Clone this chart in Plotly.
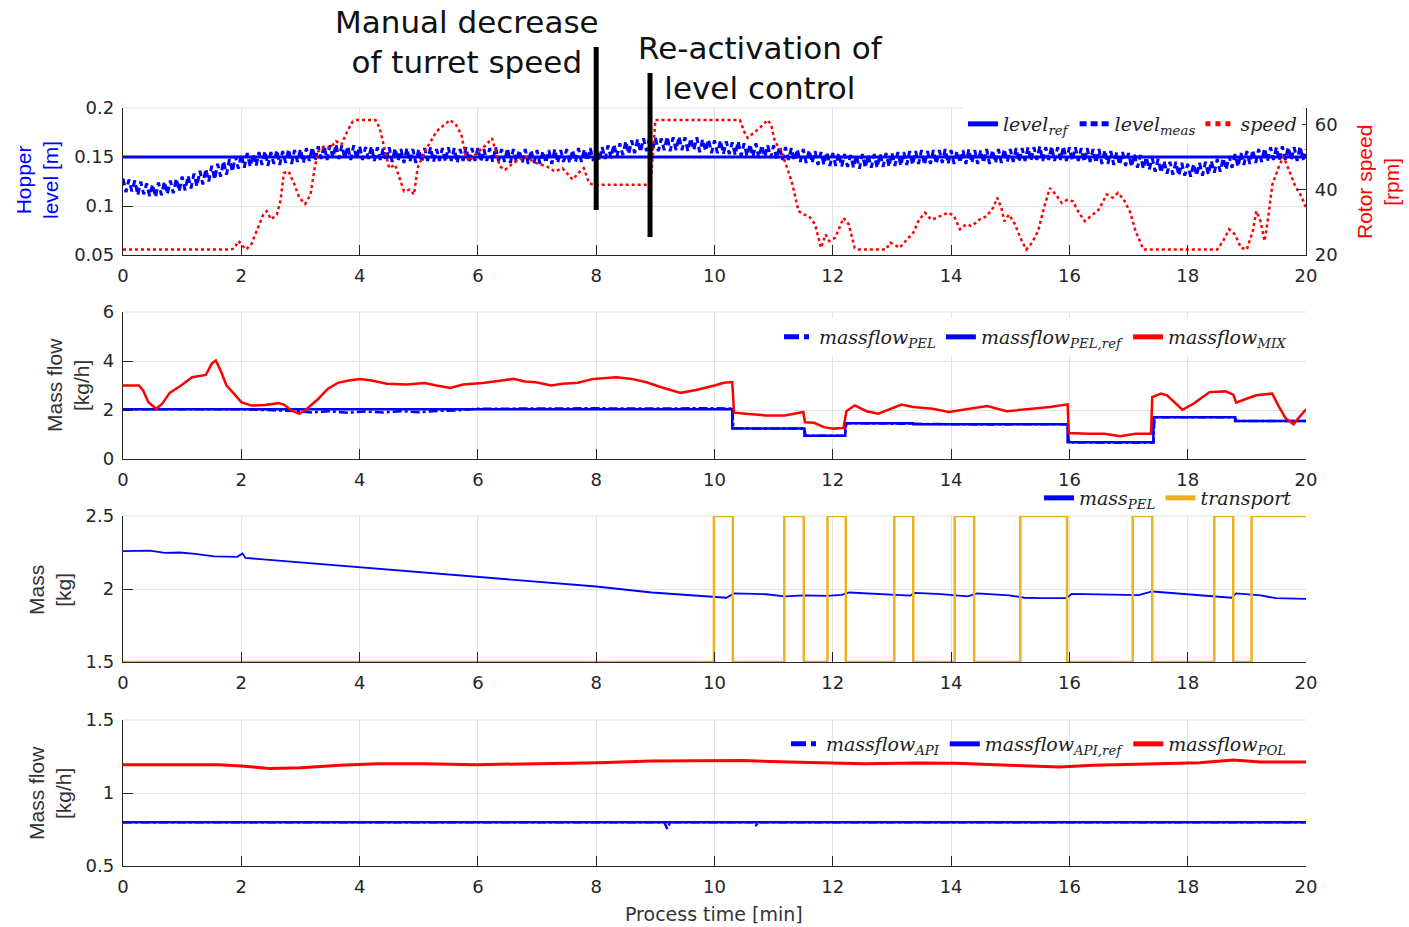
import numpy as np
import plotly.graph_objects as go

W, H = 1409, 927

# ---------------- data ----------------
x_ticks = [0, 2, 4, 6, 8, 10, 12, 14, 16, 18, 20]

# Panel 1 : hopper level and rotor speed
level_ref_t = [0, 20]
level_ref = [0.15, 0.15]
level_meas_t = np.round(np.arange(0, 20.001, 0.05), 2)
level_meas = [
    0.128, 0.114, 0.127, 0.115, 0.126, 0.111, 0.125, 0.112, 0.123, 0.110, 0.122, 0.109, 0.124, 0.111, 0.125, 0.112, 0.126, 0.113, 0.128, 0.115,
    0.130, 0.116, 0.131, 0.118, 0.133, 0.120, 0.136, 0.122, 0.138, 0.125, 0.141, 0.127, 0.143, 0.130, 0.146, 0.132, 0.148, 0.135, 0.151, 0.138,
    0.153, 0.139, 0.154, 0.140, 0.153, 0.141, 0.155, 0.142, 0.156, 0.141, 0.155, 0.143, 0.157, 0.142, 0.156, 0.144, 0.158, 0.143, 0.157, 0.145,
    0.158, 0.144, 0.159, 0.146, 0.160, 0.147, 0.161, 0.148, 0.162, 0.147, 0.162, 0.149, 0.163, 0.148, 0.162, 0.149, 0.161, 0.147, 0.162, 0.148,
    0.161, 0.147, 0.160, 0.148, 0.161, 0.146, 0.160, 0.147, 0.159, 0.146, 0.160, 0.145, 0.159, 0.146, 0.158, 0.144, 0.159, 0.145, 0.158, 0.144,
    0.158, 0.145, 0.159, 0.146, 0.160, 0.145, 0.158, 0.146, 0.159, 0.145, 0.160, 0.146, 0.159, 0.144, 0.158, 0.146, 0.160, 0.145, 0.159, 0.146,
    0.159, 0.145, 0.158, 0.146, 0.159, 0.145, 0.160, 0.146, 0.158, 0.145, 0.159, 0.144, 0.158, 0.145, 0.157, 0.144, 0.158, 0.143, 0.157, 0.144,
    0.157, 0.143, 0.156, 0.144, 0.157, 0.143, 0.158, 0.144, 0.157, 0.145, 0.158, 0.144, 0.157, 0.145, 0.159, 0.145, 0.158, 0.146, 0.159, 0.146,
    0.160, 0.146, 0.160, 0.148, 0.162, 0.149, 0.163, 0.150, 0.164, 0.152, 0.166, 0.153, 0.167, 0.154, 0.168, 0.155, 0.169, 0.156, 0.169, 0.156,
    0.170, 0.156, 0.169, 0.157, 0.171, 0.156, 0.170, 0.157, 0.171, 0.157, 0.170, 0.156, 0.169, 0.157, 0.170, 0.155, 0.168, 0.156, 0.168, 0.154,
    0.167, 0.154, 0.167, 0.153, 0.166, 0.153, 0.165, 0.152, 0.166, 0.151, 0.164, 0.151, 0.163, 0.150, 0.164, 0.149, 0.162, 0.150, 0.162, 0.149,
    0.162, 0.148, 0.161, 0.147, 0.160, 0.147, 0.159, 0.146, 0.158, 0.145, 0.158, 0.144, 0.157, 0.144, 0.156, 0.142, 0.155, 0.142, 0.155, 0.141,
    0.154, 0.141, 0.154, 0.140, 0.153, 0.140, 0.152, 0.139, 0.152, 0.138, 0.153, 0.139, 0.152, 0.139, 0.153, 0.139, 0.153, 0.140, 0.154, 0.140,
    0.154, 0.141, 0.155, 0.141, 0.155, 0.142, 0.156, 0.142, 0.156, 0.143, 0.157, 0.142, 0.156, 0.143, 0.157, 0.143, 0.157, 0.144, 0.158, 0.143,
    0.157, 0.143, 0.156, 0.144, 0.157, 0.143, 0.158, 0.144, 0.157, 0.143, 0.157, 0.144, 0.158, 0.143, 0.157, 0.144, 0.158, 0.144, 0.158, 0.145,
    0.158, 0.145, 0.159, 0.145, 0.159, 0.146, 0.160, 0.146, 0.160, 0.147, 0.161, 0.146, 0.160, 0.147, 0.161, 0.146, 0.160, 0.147, 0.161, 0.146,
    0.160, 0.146, 0.160, 0.146, 0.159, 0.145, 0.159, 0.145, 0.158, 0.144, 0.158, 0.143, 0.157, 0.143, 0.156, 0.142, 0.155, 0.142, 0.155, 0.141,
    0.154, 0.140, 0.153, 0.139, 0.152, 0.138, 0.150, 0.137, 0.149, 0.135, 0.148, 0.134, 0.146, 0.133, 0.145, 0.132, 0.145, 0.131, 0.144, 0.131,
    0.143, 0.130, 0.143, 0.131, 0.144, 0.131, 0.145, 0.132, 0.146, 0.134, 0.148, 0.135, 0.149, 0.137, 0.151, 0.139, 0.153, 0.140, 0.154, 0.142,
    0.156, 0.143, 0.157, 0.144, 0.158, 0.145, 0.159, 0.146, 0.160, 0.147, 0.160, 0.146, 0.161, 0.147, 0.160, 0.147, 0.160, 0.146, 0.161, 0.147,
    0.158,
]
speed_t = [
    0, 1.82, 1.88, 1.95, 2.0, 2.08, 2.17, 2.27, 2.37, 2.43, 2.5, 2.6, 2.66, 2.72, 2.8,
    2.9, 2.98, 3.08, 3.17, 3.24, 3.3, 3.4, 3.5, 3.6, 3.69, 3.79, 3.88, 3.95, 4.27, 4.34,
    4.43, 4.5, 4.6, 4.69, 4.75, 4.85, 4.92, 4.98, 5.1, 5.17, 5.3, 5.43, 5.53, 5.63, 5.72,
    5.79, 5.85, 5.95, 6.05, 6.14, 6.24, 6.3, 6.37, 6.46, 6.6, 6.8, 6.98, 7.17, 7.3, 7.43,
    7.6, 7.7, 7.79, 7.88, 7.95, 8.92, 9.0, 10.43, 10.5, 10.56, 10.66, 10.76, 10.9, 10.96,
    11.02, 11.12, 11.22, 11.32, 11.42, 11.52, 11.6, 11.7, 11.8, 11.88, 11.94, 12.04, 12.18,
    12.27, 12.37, 12.44, 12.9, 12.97, 13.03, 13.13, 13.23, 13.36, 13.46, 13.56, 13.66,
    13.76, 13.86, 13.96, 14.05, 14.15, 14.25, 14.35, 14.48, 14.6, 14.71, 14.78, 14.85,
    14.9, 14.98, 15.08, 15.17, 15.27, 15.37, 15.47, 15.57, 15.67, 15.77, 15.87, 15.97,
    16.06, 16.16, 16.26, 16.36, 16.5, 16.63, 16.73, 16.82, 16.92, 17.02, 17.12, 17.25,
    18.5, 18.6, 18.7, 18.8, 18.9, 19.0, 19.1, 19.16, 19.23, 19.3, 19.36, 19.43, 19.53,
    19.62, 19.72, 19.82, 19.92, 20.0,
]
speed = [
    21.7, 21.7, 22.0, 24.3, 23.3, 21.7, 23.3, 27.9, 32.4, 33.5, 31.0, 32.4, 36.5, 45.2, 45.7,
    41.6, 37.6, 35.7, 38.6, 46.7, 51.8, 53.4, 52.9, 55.0, 53.9, 58.0, 61.0, 61.5, 61.5, 59.0,
    51.8, 46.7, 47.8, 42.7, 39.6, 40.1, 38.6, 46.7, 51.8, 53.9, 58.0, 60.0, 61.5, 60.0, 57.0,
    50.8, 48.8, 50.8, 52.3, 53.9, 55.9, 51.8, 47.2, 46.2, 48.3, 50.3, 48.3, 47.2, 45.7, 46.7,
    43.2, 45.2, 46.7, 42.1, 41.6, 41.6, 61.5, 61.5, 58.0, 56.0, 57.4, 59.0, 61.5, 60.0,
    54.9, 52.3, 47.2, 41.6, 33.5, 32.4, 31.9, 29.4, 22.2, 26.3, 24.3, 25.3, 31.4,
    29.4, 22.2, 21.7, 21.7, 23.8, 23.3, 22.2, 24.3, 26.8, 30.9, 33.0, 30.9,
    31.4, 32.4, 33.0, 31.9, 27.9, 29.4, 28.9, 30.9, 31.9, 34.5, 37.6, 34.5,
    30.4, 32.4, 29.4, 25.3, 21.7, 23.8, 27.3, 34.5, 40.6, 38.6, 36.0, 37.0,
    36.5, 33.0, 30.4, 31.9, 34.0, 38.6, 37.6, 39.1, 37.0, 33.5, 27.3, 21.7,
    21.7, 24.3, 27.9, 26.3, 22.2, 21.7, 27.3, 33.5, 30.4, 24.3, 31.4, 41.6, 46.7,
    50.3, 45.7, 41.1, 38.1, 34.5,
]
event_t = [8.0, 8.91]
event_text = ["Manual decrease<br>of turret speed", "Re-activation of<br>level control"]

# Panel 2 : pellet / mixture mass flow
pel_ref_t = [0, 10.3, 11.52, 12.21, 13.36, 15.97, 17.42, 18.8, 20]
pel_ref = [2.03, 1.25, 0.95, 1.46, 1.42, 0.68, 1.70, 1.55, 1.55]
pel_meas_t = [0, 1.0, 2.0, 2.9, 3.2, 3.5, 3.8, 4.1, 4.4, 4.7, 5.0, 5.3, 5.6, 6.0, 6.5,
              7.0, 7.5, 8.0, 8.5, 9.0, 9.5, 10.0, 10.3, 10.32, 10.9, 11.52, 11.54, 11.9,
              12.21, 12.23, 12.8, 13.36, 13.38, 14.5, 15.97, 15.99, 16.8, 17.42, 17.44,
              18.1, 18.8, 18.82, 19.5, 20]
pel_meas = [2.03, 2.02, 2.03, 1.96, 1.90, 1.95, 1.89, 1.94, 1.90, 1.95, 1.91, 1.96, 1.98, 2.05, 2.06,
            2.07, 2.05, 2.07, 2.06, 2.07, 2.06, 2.07, 2.06, 1.26, 1.24, 1.25, 0.95, 0.94,
            0.95, 1.46, 1.45, 1.44, 1.42, 1.41, 1.42, 0.68, 0.66, 0.67, 1.70, 1.71, 1.70,
            1.55, 1.54, 1.55]
mix_t = [
    0, 0.27, 0.34, 0.43, 0.56, 0.66, 0.79, 0.98, 1.17, 1.3, 1.4, 1.5, 1.57, 1.66, 1.75, 1.88,
    2.0, 2.17, 2.4, 2.63, 2.72, 2.85, 2.98, 3.11, 3.3, 3.46, 3.63, 3.82, 4.01, 4.2, 4.46,
    4.79, 5.1, 5.3, 5.53, 5.75, 6.08, 6.4, 6.6, 6.79, 6.98, 7.24, 7.43, 7.69, 7.95, 8.34,
    8.6, 8.85, 9.1, 9.43, 9.69, 10.0, 10.16, 10.3, 10.33, 10.53, 10.86, 11.19, 11.38, 11.5,
    11.53, 11.68, 11.85, 12.01, 12.18, 12.23, 12.37, 12.57, 12.77, 12.97, 13.16, 13.36,
    13.69, 13.96, 14.28, 14.61, 14.94, 15.34, 15.67, 15.97, 15.99, 16.33, 16.59, 16.86,
    17.12, 17.38, 17.4, 17.55, 17.65, 17.91, 18.1, 18.37, 18.64, 18.77, 18.82, 18.97,
    19.16, 19.43, 19.53, 19.66, 19.79, 19.89, 20.0,
]
mix = [
    3.0, 3.0, 2.8, 2.32, 2.05, 2.25, 2.7, 3.0, 3.34, 3.4, 3.43, 3.89, 4.02, 3.55, 3.0, 2.66,
    2.32, 2.18, 2.2, 2.28, 2.22, 1.98, 1.84, 2.05, 2.45, 2.86, 3.11, 3.2, 3.27, 3.2, 3.07,
    3.04, 3.1, 3.0, 2.9, 3.04, 3.1, 3.2, 3.27, 3.16, 3.13, 3.0, 3.07, 3.11, 3.27, 3.34,
    3.27, 3.13, 2.93, 2.7, 2.82, 3.0, 3.11, 3.14, 1.89, 1.85, 1.78, 1.78, 1.85, 1.92,
    1.5, 1.48, 1.3, 1.24, 1.27, 1.95, 2.19, 1.95, 1.85, 2.05, 2.22, 2.12,
    2.05, 1.92, 2.05, 2.16, 1.95, 2.05, 2.12, 2.23, 1.06, 1.03, 1.03, 0.93,
    1.03, 1.03, 2.53, 2.67, 2.6, 2.01, 2.26, 2.73, 2.76, 2.63, 2.3, 2.44,
    2.6, 2.67, 2.19, 1.65, 1.42, 1.72, 2.03,
]

# Panel 3 : pellet mass and transport state
mass_t = [0, 0.45, 0.71, 0.96, 1.22, 1.54, 1.93, 2.02, 2.07, 3.0, 4.0, 5.0, 6.0, 7.0, 8.0,
          8.94, 9.71, 10.0, 10.2, 10.33, 10.87, 11.19, 11.5, 11.9, 12.15, 12.28, 12.8, 13.31,
          13.39, 13.83, 14.28, 14.44, 14.98, 15.24, 15.5, 15.95, 16.04, 16.66, 17.17, 17.4,
          17.94, 18.46, 18.74, 18.82, 19.23, 19.49, 20.0]
mass_pel = [2.259, 2.263, 2.247, 2.25, 2.24, 2.224, 2.22, 2.243, 2.213, 2.183, 2.15, 2.118,
            2.086, 2.05, 2.017, 1.976, 1.953, 1.948, 1.94, 1.97, 1.964, 1.95, 1.957, 1.953,
            1.96, 1.976, 1.967, 1.955, 1.974, 1.965, 1.95, 1.97, 1.957, 1.94, 1.937, 1.937,
            1.967, 1.96, 1.958, 1.983, 1.967, 1.953, 1.94, 1.97, 1.957, 1.937, 1.932]
transport_t = [0, 9.99, 10.31, 11.18, 11.51, 11.91, 12.22, 13.04, 13.36, 14.06, 14.39,
               15.17, 15.96, 17.07, 17.4, 18.45, 18.77, 19.08, 20.0]
transport = [1.5, 2.5, 1.5, 2.5, 1.5, 2.5, 1.5, 2.5, 1.5, 2.5, 1.5,
             2.5, 1.5, 2.5, 1.5, 2.5, 1.5, 2.5, 2.5]

# Panel 4 : API / polymer mass flow
api_ref_t = [0, 20]
api_ref = [0.80, 0.80]
api_meas_t = [0, 9.15, 9.2, 9.25, 10.65, 10.7, 10.75, 20]
api_meas = [0.80, 0.80, 0.755, 0.80, 0.80, 0.78, 0.80, 0.80]
pol_t = [0, 1.61, 2.0, 2.5, 3.0, 3.67, 4.3, 5.08, 5.98, 7.0, 8.04, 8.94, 9.97, 10.48, 11.25,
         12.03, 12.54, 13.44, 14.08, 14.98, 15.83, 16.4, 17.3, 18.2, 18.77, 19.23, 20.0]
pol = [1.194, 1.194, 1.185, 1.167, 1.173, 1.19, 1.2, 1.2, 1.194, 1.2, 1.208, 1.22, 1.224,
       1.222, 1.213, 1.208, 1.2, 1.206, 1.203, 1.19, 1.178, 1.19, 1.2, 1.207, 1.226,
       1.213, 1.213]

# ---------------- style / layout ----------------
BLUE, RED, ORANGE = "#0000ff", "#ff0000", "#EDB120"
AX = "#262626"
GRID = "#e3e3e3"
TICKFONT = dict(family="DejaVu Sans", size=18, color=AX)
LEGFONT = dict(family="DejaVu Serif", size=19, color="#222222")


def px_x(px):
    return px / W


def px_y(py):
    return 1 - py / H


X0, X1 = 123, 1306
panels = [(108, 255), (312, 459), (516, 662), (720, 866)]

fig = go.Figure()

# panel 1
fig.add_trace(go.Scatter(x=level_ref_t, y=level_ref, mode="lines", xaxis="x", yaxis="y",
                         line=dict(color=BLUE, width=3), legend="legend",
                         name="<i>level</i><sub><i>ref</i></sub>"))
fig.add_trace(go.Scatter(x=level_meas_t, y=level_meas, mode="lines", xaxis="x", yaxis="y",
                         line=dict(color=BLUE, width=3, dash="7px,4px"), legend="legend",
                         name="<i>level</i><sub><i>meas</i></sub>"))
fig.add_trace(go.Scatter(x=speed_t, y=speed, mode="lines", xaxis="x", yaxis="y5",
                         line=dict(color=RED, width=2.5, dash="dot"), legend="legend",
                         name="<i>speed</i>"))
# panel 2
fig.add_trace(go.Scatter(x=pel_meas_t, y=pel_meas, mode="lines", xaxis="x2", yaxis="y2",
                         line=dict(color=BLUE, width=2.5, dash="dashdot"), legend="legend2",
                         name="<i>massflow</i><sub><i>PEL</i></sub>"))
fig.add_trace(go.Scatter(x=pel_ref_t, y=pel_ref, mode="lines", xaxis="x2", yaxis="y2",
                         line=dict(color=BLUE, width=2.5, shape="hv"), legend="legend2",
                         name="<i>massflow</i><sub><i>PEL,ref</i></sub>"))
fig.add_trace(go.Scatter(x=mix_t, y=mix, mode="lines", xaxis="x2", yaxis="y2",
                         line=dict(color=RED, width=2.5), legend="legend2",
                         name="<i>massflow</i><sub><i>MIX</i></sub>"))
# panel 3
fig.add_trace(go.Scatter(x=mass_t, y=mass_pel, mode="lines", xaxis="x3", yaxis="y3",
                         line=dict(color=BLUE, width=1.8), legend="legend3",
                         name="<i>mass</i><sub><i>PEL</i></sub>"))
fig.add_trace(go.Scatter(x=transport_t, y=transport, mode="lines", xaxis="x3", yaxis="y3",
                         line=dict(color=ORANGE, width=2.5, shape="hv"), legend="legend3",
                         name="<i>transport</i>"))
# panel 4
fig.add_trace(go.Scatter(x=api_meas_t, y=api_meas, mode="lines", xaxis="x4", yaxis="y4",
                         line=dict(color=BLUE, width=2.5, dash="dashdot"), legend="legend4",
                         name="<i>massflow</i><sub><i>API</i></sub>"))
fig.add_trace(go.Scatter(x=api_ref_t, y=api_ref, mode="lines", xaxis="x4", yaxis="y4",
                         line=dict(color=BLUE, width=2.5), legend="legend4",
                         name="<i>massflow</i><sub><i>API,ref</i></sub>"))
fig.add_trace(go.Scatter(x=pol_t, y=pol, mode="lines", xaxis="x4", yaxis="y4",
                         line=dict(color=RED, width=3), legend="legend4",
                         name="<i>massflow</i><sub><i>POL</i></sub>"))

yranges = [[0.05, 0.2], [0, 6], [1.5, 2.5], [0.5, 1.5]]
ytickv = [[0.05, 0.1, 0.15, 0.2], [0, 2, 4, 6], [1.5, 2, 2.5], [0.5, 1, 1.5]]
ytickt = [["0.05", "0.1", "0.15", "0.2"], ["0", "2", "4", "6"], ["1.5", "2", "2.5"],
          ["0.5", "1", "1.5"]]

layout = dict(
    width=W, height=H, margin=dict(l=0, r=0, t=0, b=0, pad=0, autoexpand=False),
    paper_bgcolor="white", plot_bgcolor="white", showlegend=True,
)
for i, (top, bot) in enumerate(panels):
    k = "" if i == 0 else str(i + 1)
    layout["xaxis" + k] = dict(
        domain=[px_x(X0), px_x(X1)], range=[0, 20], anchor="y" + k,
        tickvals=x_ticks, ticktext=[str(v) for v in x_ticks],
        ticks="inside", ticklen=10, tickcolor=AX, tickwidth=1,
        showline=True, linecolor=AX, linewidth=1.3, mirror=False,
        showgrid=True, gridcolor=GRID, gridwidth=1, zeroline=False,
        tickfont=TICKFONT, ticklabelstandoff=4, automargin=False,
    )
    layout["yaxis" + k] = dict(
        domain=[px_y(bot), px_y(top)], range=yranges[i], anchor="x" + k,
        tickvals=ytickv[i], ticktext=ytickt[i],
        ticks="inside", ticklen=10, tickcolor=AX, tickwidth=1,
        showline=True, linecolor=AX, linewidth=1.3,
        showgrid=True, gridcolor=GRID, gridwidth=1, zeroline=False,
        tickfont=TICKFONT, ticklabelstandoff=4, automargin=False,
    )
layout["yaxis5"] = dict(
    overlaying="y", side="right", anchor="x", range=[20, 65.2],
    tickvals=[20, 40, 60], ticktext=["20", "40", "60"],
    ticks="inside", ticklen=10, tickcolor=AX, tickwidth=1,
    showline=True, linecolor=AX, linewidth=1.3, showgrid=False, zeroline=False,
    tickfont=TICKFONT, ticklabelstandoff=4, automargin=False,
)

shapes = []
for i, (top, bot) in enumerate(panels):
    shapes.append(dict(type="line", xref="paper", yref="paper",
                       x0=px_x(X0), x1=px_x(X1), y0=px_y(top), y1=px_y(top),
                       line=dict(color=GRID, width=1), layer="below"))

# event marker lines
ev_tops = [47, 73]
ev_bots = [210, 237]
for et, ytop, ybot in zip(event_t, ev_tops, ev_bots):
    shapes.append(dict(type="line", xref="x", yref="paper", x0=et, x1=et,
                       y0=px_y(ybot), y1=px_y(ytop), line=dict(color="black", width=5)))
layout["shapes"] = shapes

legend_common = dict(orientation="h", font=LEGFONT, bgcolor="rgba(255,255,255,1)",
                     borderwidth=0, itemwidth=30, xanchor="right", yanchor="middle",
                     tracegroupgap=0, itemsizing="constant")
layout["legend"] = dict(legend_common, x=px_x(1302), y=px_y(124))
layout["legend2"] = dict(legend_common, x=px_x(1292), y=px_y(337))
layout["legend3"] = dict(legend_common, x=px_x(1297), y=px_y(498), bgcolor="rgba(255,255,255,0)")
layout["legend4"] = dict(legend_common, x=px_x(1292), y=px_y(744), bgcolor="rgba(255,255,255,0)")

ann = []
ANNFONT = dict(family="DejaVu Sans", size=31, color="#111111")
ann.append(dict(text=event_text[0], x=px_x(467), y=px_y(42), xref="paper", yref="paper",
                showarrow=False, font=ANNFONT, align="center",
                xanchor="center", yanchor="middle"))
ann.append(dict(text=event_text[1], x=px_x(760), y=px_y(68), xref="paper", yref="paper",
                showarrow=False, font=ANNFONT, align="center",
                xanchor="center", yanchor="middle"))
TITLEF = dict(family="Liberation Sans", size=21, color="#333333")
ytitles = [
    ("Hopper<br>level [m]", 37, 180, BLUE),
    ("Rotor speed<br>[rpm]", 1378, 182, RED),
    ("Mass flow<br>[kg/h]", 68, 385, "#333333"),
    ("Mass<br>[kg]", 50, 590, "#333333"),
    ("Mass flow<br>[kg/h]", 50, 793, "#333333"),
]
for txt, x, y, c in ytitles:
    ann.append(dict(text=txt, x=px_x(x), y=px_y(y), xref="paper", yref="paper",
                    showarrow=False, textangle=-90, font=dict(TITLEF, color=c),
                    align="center", xanchor="center", yanchor="middle"))
ann.append(dict(text="Process time [min]", x=px_x(714), y=px_y(914), xref="paper",
                yref="paper", showarrow=False, xanchor="center", yanchor="middle",
                font=dict(family="DejaVu Sans", size=19, color="#333333")))
layout["annotations"] = ann

fig.update_layout(**layout)
fig.write_html("out.html")
